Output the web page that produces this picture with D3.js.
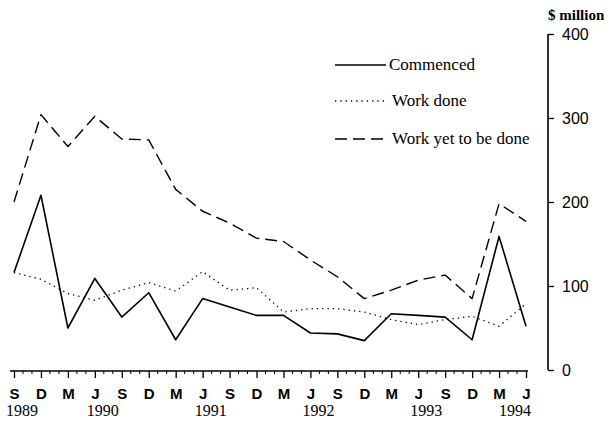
<!DOCTYPE html>
<html>
<head>
<meta charset="utf-8">
<script src="https://cdn.jsdelivr.net/npm/d3@7"></script>
<style>
  body { margin: 0; background: #fff; }
  svg { display: block; font-family: "Liberation Serif", "DejaVu Serif", serif; }
</style>
</head>
<body>
<svg id="chart"></svg>
<script>
// quarters, Sep 1989 .. Jun 1994
const quarters = ['1989-09', '1989-12', '1990-03', '1990-06', '1990-09', '1990-12', '1991-03', '1991-06',
    '1991-09', '1991-12', '1992-03', '1992-06', '1992-09', '1992-12', '1993-03', '1993-06',
    '1993-09', '1993-12', '1994-03', '1994-06'];
const monthLabels = ['S', 'D', 'M', 'J', 'S', 'D', 'M', 'J', 'S', 'D', 'M', 'J', 'S', 'D', 'M', 'J', 'S', 'D', 'M', 'J'];
const yearLabels = [
    { q: '1989-09', text: '1989' }, { q: '1990-06', text: '1990' }, { q: '1991-06', text: '1991' },
    { q: '1992-06', text: '1992' }, { q: '1993-06', text: '1993' }, { q: '1994-06', text: '1994' }
];

// $ million
const commenced = [116, 208, 50, 109, 63, 92, 36, 85, 75, 65, 65, 44, 43, 35, 67, 65, 63, 36, 159, 52];
const workDone = [116, 108, 91, 83, 95, 104, 94, 117, 95, 98, 69, 73, 73, 69, 60, 54, 60, 64, 52, 79];
const workYet = [200, 304, 266, 302, 275, 274, 215, 189, 175, 157, 153, 131, 111, 85, 95, 107, 113, 85, 198, 177];
const yTicks = [0, 100, 200, 300, 400];

const seriesNames = ['Commenced', 'Work done', 'Work yet to be done'];

const svg = d3.select('#chart').attr('width', 613).attr('height', 421);

const x = d3.scalePoint().domain(quarters).range([14, 526]);
const y = d3.scaleLinear().domain([0, 400]).range([370, 34]);
const xAxisY = 371;

const styles = [
    { dash: null, width: 1.6 },
    { dash: '1.3,4', width: 1.3 },
    { dash: '12,6', width: 1.4 }
];

// x axis
const xAxis = d3.axisBottom(x).tickSize(7).tickFormat((d, i) => monthLabels[i]).tickPadding(10);
svg.append('g').attr('id', 'xAxisG')
    .attr('transform', 'translate(0,' + xAxisY + ')')
    .call(xAxis)
    .call(g => {
        g.select('.domain').remove();
        g.selectAll('.tick line').attr('stroke', '#000').attr('stroke-width', 1.3);
        g.selectAll('.tick text').attr('font-size', 15).attr('font-weight', 'bold')
            .attr('font-family', null).attr('fill', '#000');
    });

svg.select('#xAxisG').append('line')
    .attr('x1', 10).attr('x2', 528).attr('y1', 0).attr('y2', 0)
    .style('stroke', '#000').style('stroke-width', 1.6);

// minor monthly ticks
const step = x.step();
const minor = [];
quarters.slice(0, -1).forEach(q => { minor.push(x(q) + step / 3, x(q) + 2 * step / 3); });
svg.select('#xAxisG').selectAll('.minor').data(minor).enter().append('line')
    .attr('class', 'minor')
    .attr('x1', d => d).attr('x2', d => d).attr('y1', 0).attr('y2', 3)
    .style('stroke', '#000').style('stroke-width', 1);

svg.append('g').selectAll('text').data(yearLabels).enter().append('text')
    .attr('x', d => d.text === '1994' ? x(d.q) + 5 : x(d.q) - 8)
    .attr('y', 416)
    .attr('text-anchor', d => d.text === '1994' ? 'end' : 'start')
    .attr('font-size', 16)
    .text(d => d.text);

// y axis on the right
const yAxis = d3.axisRight(y).tickValues(yTicks).tickSize(6).tickPadding(8);
svg.append('g').attr('id', 'yAxisG')
    .attr('transform', 'translate(548,0)')
    .call(yAxis)
    .call(g => {
        g.select('.domain').remove();
        g.selectAll('.tick line').attr('stroke', '#000').attr('stroke-width', 1.3);
        g.selectAll('.tick text').attr('font-size', 16).attr('font-family', null).attr('fill', '#000');
    });
svg.select('#yAxisG').append('line')
    .attr('x1', 0).attr('x2', 0).attr('y1', y(400)).attr('y2', y(0))
    .style('stroke', '#000').style('stroke-width', 1.6);

svg.append('text')
    .attr('x', 548).attr('y', 20)
    .attr('font-size', 15).attr('font-weight', 'bold')
    .text('$ million');

// lines
const line = d3.line().x((d, i) => x(quarters[i])).y(d => y(d));
[commenced, workDone, workYet].forEach((s, k) => {
    svg.append('path')
        .datum(s)
        .attr('d', line)
        .attr('fill', 'none')
        .attr('stroke', '#000')
        .attr('stroke-width', styles[k].width)
        .attr('stroke-dasharray', styles[k].dash)
        .attr('stroke-linejoin', 'round');
});

// legend
const legendY = [65, 101, 139];
const lg = svg.append('g').attr('id', 'legend');
seriesNames.forEach((name, k) => {
    lg.append('line')
        .attr('x1', 335).attr('x2', 386).attr('y1', legendY[k]).attr('y2', legendY[k])
        .attr('stroke', '#000')
        .attr('stroke-width', styles[k].width)
        .attr('stroke-dasharray', styles[k].dash);
    lg.append('text')
        .attr('x', k === 0 ? 389 : 392).attr('y', legendY[k] + 5)
        .attr('font-size', 17)
        .text(name);
});
</script>
</body>
</html>
